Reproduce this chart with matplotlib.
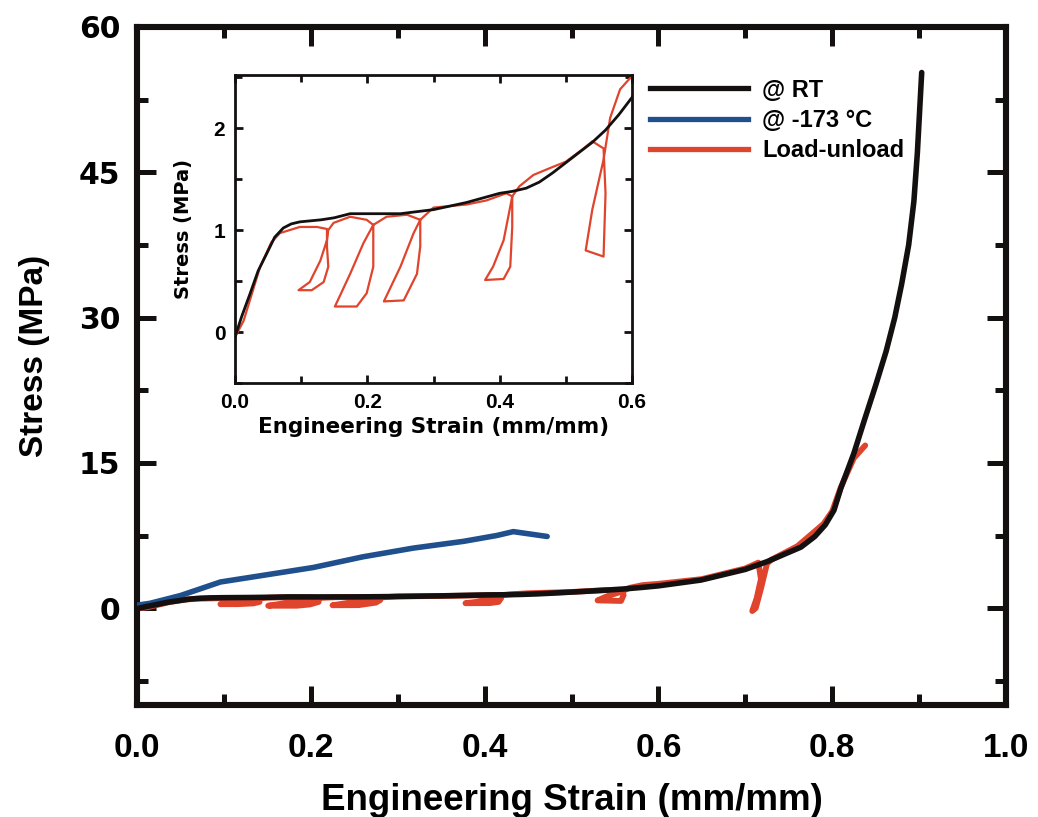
import matplotlib
matplotlib.use("Agg")
import matplotlib.pyplot as plt
from matplotlib.ticker import MultipleLocator
from matplotlib.lines import Line2D

# ---------------- data ----------------
rt_strain = [0.000, 0.010, 0.023, 0.035, 0.048, 0.060, 0.073, 0.085, 0.098, 0.130,
             0.150, 0.174, 0.204, 0.250, 0.300, 0.350, 0.400, 0.420, 0.440, 0.460,
             0.480, 0.500, 0.520, 0.540, 0.560, 0.580, 0.600, 0.649, 0.700, 0.725,
             0.764, 0.780, 0.792, 0.802, 0.810, 0.825, 0.837, 0.850, 0.862, 0.872,
             0.880, 0.888, 0.894, 0.898, 0.901, 0.903]
rt_stress = [-0.05, 0.15, 0.38, 0.60, 0.77, 0.93, 1.02, 1.06, 1.08, 1.10,
             1.12, 1.16, 1.16, 1.16, 1.20, 1.27, 1.36, 1.38, 1.41, 1.47,
             1.56, 1.66, 1.76, 1.86, 1.98, 2.13, 2.30, 2.90, 4.00, 4.80,
             6.30, 7.40, 8.60, 10.1, 12.4, 16.0, 19.4, 23.0, 26.5, 30.0,
             33.5, 37.5, 42.0, 47.0, 52.0, 55.3]

cold_strain = [0.000, 0.015, 0.050, 0.096, 0.146, 0.203, 0.260, 0.318, 0.376, 0.414, 0.433, 0.472]
cold_stress = [0.30, 0.50, 1.30, 2.70, 3.40, 4.20, 5.30, 6.20, 6.90, 7.50, 7.90, 7.40]

lu_strain = [0.000, 0.013, 0.038, 0.055, 0.068, 0.098, 0.124, 0.139,
             0.139, 0.141, 0.134, 0.116, 0.096,
             0.113, 0.129, 0.139, 0.141,
             0.149, 0.174, 0.199, 0.209,
             0.209, 0.199, 0.184, 0.151,
             0.174, 0.194, 0.209,
             0.229, 0.260, 0.280,
             0.280, 0.275, 0.255, 0.225,
             0.250, 0.270, 0.280,
             0.300, 0.350, 0.380, 0.410, 0.419,
             0.419, 0.416, 0.406, 0.378,
             0.390, 0.406, 0.416, 0.419,
             0.430, 0.451, 0.477, 0.500, 0.527, 0.540, 0.557,
             0.560, 0.557, 0.530,
             0.540, 0.557, 0.567, 0.582, 0.600,
             0.650, 0.700, 0.715,
             0.718, 0.713, 0.708, 0.712,
             0.718, 0.725, 0.730,
             0.760, 0.790, 0.800, 0.810, 0.825, 0.838]
lu_stress = [-0.05, 0.11, 0.64, 0.88, 0.97, 1.03, 1.03, 1.01,
             0.84, 0.64, 0.49, 0.41, 0.41,
             0.49, 0.70, 0.90, 1.00,
             1.07, 1.13, 1.10, 1.05,
             0.64, 0.38, 0.25, 0.25,
             0.57, 0.87, 1.05,
             1.13, 1.15, 1.10,
             0.84, 0.57, 0.31, 0.30,
             0.64, 0.97, 1.10,
             1.22, 1.25, 1.29, 1.36, 1.33,
             1.03, 0.64, 0.52, 0.51,
             0.64, 0.90, 1.23, 1.33,
             1.43, 1.54, 1.61, 1.67, 1.80, 1.87, 1.80,
             1.36, 0.74, 0.80,
             1.20, 1.69, 2.10, 2.38, 2.51,
             3.00, 4.10, 4.70,
             3.00, 1.00, -0.30, 0.00,
             2.00, 4.60, 5.00,
             6.40, 8.70, 10.0, 12.5, 15.5, 16.8]

labels = ["@ RT", "@ -173 \u00b0C", "Load-unload"]
main_xticks = [0.0, 0.2, 0.4, 0.6, 0.8, 1.0]
main_yticks = [0, 15, 30, 45, 60]
inset_xticks = [0.0, 0.2, 0.4, 0.6]
inset_yticks = [0, 1, 2]
c_black, c_blue, c_red = "#141010", "#1f4f8c", "#e0442c"

# ---------------- figure ----------------
fig = plt.figure(figsize=(10.38, 8.17), dpi=100)
ax = fig.add_axes([137/1038, 1-705/817, (1006-137)/1038, (705-27)/817])

ax.plot(lu_strain, lu_stress, color=c_red, lw=4.2, zorder=2, solid_capstyle="round")
ax.plot(cold_strain, cold_stress, color=c_blue, lw=4.0, zorder=3, solid_capstyle="round")
ax.plot(rt_strain, rt_stress, color=c_black, lw=4.0, zorder=4, solid_capstyle="round")

ax.set_xlim(0, 1.0)
ax.set_ylim(-10, 60)
ax.xaxis.set_minor_locator(MultipleLocator(0.1))
ax.yaxis.set_minor_locator(MultipleLocator(7.5))
ax.tick_params(which="both", direction="in", top=True, right=True, color=c_black)
ax.tick_params(which="major", length=14, width=3.6)
ax.tick_params(which="minor", length=8, width=3.6)
ax.tick_params(axis="x", which="major", pad=20)
ax.tick_params(axis="y", which="major", pad=12)
for s in ax.spines.values():
    s.set_linewidth(4.4)
    s.set_color(c_black)
ax.set_xticks(main_xticks)
ax.set_xticklabels([f"{v:.1f}" for v in main_xticks],
                   fontfamily="Liberation Sans", fontweight="bold", fontsize=24)
ax.set_yticks(main_yticks)
ax.set_yticklabels([str(v) for v in main_yticks],
                   fontfamily="DejaVu Sans", fontweight="bold", fontsize=21.5)
ax.set_xlabel("Engineering Strain (mm/mm)", fontfamily="Liberation Sans",
              fontweight="bold", fontsize=26.5, labelpad=14)
ax.set_ylabel("Stress (MPa)", fontfamily="Liberation Sans",
              fontweight="bold", fontsize=24)
ax.yaxis.set_label_coords(-0.100, 0.515)

# legend
handles = [Line2D([], [], color=c_black, lw=3.8),
           Line2D([], [], color=c_blue, lw=3.8),
           Line2D([], [], color=c_red, lw=3.8)]
leg = ax.legend(handles, labels, loc="upper left", bbox_to_anchor=(0.566, 0.955),
                frameon=False, handlelength=4.15, handletextpad=0.6, labelspacing=0.31,
                prop={"family": "Liberation Sans", "weight": "bold", "size": 17})

# ---------------- inset ----------------
ins = fig.add_axes([235/1038, 1-383/817, (632-235)/1038, (383-75)/817])
ins.plot(lu_strain, lu_stress, color=c_red, lw=1.6, zorder=2)
ins.plot(rt_strain, rt_stress, color=c_black, lw=2.0, zorder=4)
ins.set_xlim(0, 0.6)
ins.set_ylim(-0.5, 2.52)
ins.xaxis.set_minor_locator(MultipleLocator(0.1))
ins.yaxis.set_minor_locator(MultipleLocator(0.5))
ins.tick_params(which="both", direction="in", top=True, right=True, color=c_black)
ins.tick_params(which="major", length=6, width=2)
ins.tick_params(which="minor", length=5, width=2)
ins.tick_params(axis="both", which="major", pad=7)
for s in ins.spines.values():
    s.set_linewidth(2.0)
    s.set_color(c_black)
ins.set_xticks(inset_xticks)
ins.set_xticklabels([f"{v:.1f}" for v in inset_xticks],
                    fontfamily="Liberation Sans", fontweight="bold", fontsize=15)
ins.set_yticks(inset_yticks)
ins.set_yticklabels([str(v) for v in inset_yticks],
                    fontfamily="Liberation Sans", fontweight="bold", fontsize=15)
ins.set_xlabel("Engineering Strain (mm/mm)", fontfamily="DejaVu Sans",
               fontweight="bold", fontsize=15.5, labelpad=4)
ins.set_ylabel("Stress (MPa)", fontfamily="DejaVu Sans",
               fontweight="bold", fontsize=14)
ins.yaxis.set_label_coords(-0.106, 0.5)

fig.savefig("out.png", dpi=100)
